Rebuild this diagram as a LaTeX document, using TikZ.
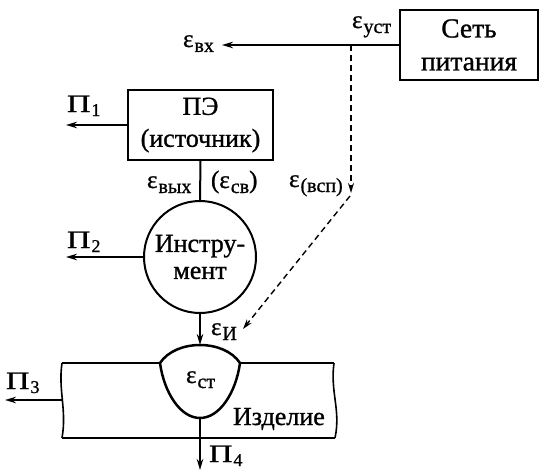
\documentclass[tikz,border=0pt]{standalone}
\usepackage{fontspec}
\usepackage{graphicx}
\setmainfont{Liberation Serif}[FakeBold=1]
\usetikzlibrary{arrows.meta}

% epsilon with a lowered subscript
\newcommand\epslab[1]{ε\kern1pt\raisebox{-5pt}{\fontsize{20}{20}\selectfont #1}}
% wide Pi with a lowered index
\newcommand\pilab[1]{\scalebox{1.3}[1]{Π}\kern1pt\raisebox{-4pt}{\fontsize{18}{18}\selectfont #1}}

\begin{document}
\begin{tikzpicture}[x=1pt,y=-1pt,line width=2pt,
  blockbox/.style={draw,line width=2pt,align=center,inner sep=0pt,
    font=\fontsize{26}{32}\selectfont},
  arr/.style={-{Stealth[length=11pt,width=6.5pt]},line width=1.8pt},
  dasharr/.style={-{Stealth[length=10pt,width=6pt]},line width=1.4pt,
    dash pattern=on 6pt off 4pt},
  lbl/.style={inner sep=0pt,anchor=base west,font=\fontsize{25}{25}\selectfont},
  bigtxt/.style={inner sep=0pt,anchor=base west,font=\fontsize{26}{26}\selectfont}]
\useasboundingbox (0,0) rectangle (539,471);

% blocks
\node[blockbox,minimum width=138pt,minimum height=70pt,
  font=\fontsize{27.5}{33}\selectfont] (net) at (469,45) {Сеть\\питания};
\node[blockbox,minimum width=145pt,minimum height=70pt] (pe) at (200.5,125) {ПЭ\\(источник)};
\node[circle,draw,line width=2pt,minimum size=112pt,inner sep=0pt,align=center,
  font=\fontsize{26}{27}\selectfont] (tool) at (200,257) {Инстру-\\мент};

% workpiece and weld bead points
\coordinate (wtl) at (62,363);
\coordinate (wbl) at (62,438);
\coordinate (wtr) at (334,363);
\coordinate (wbr) at (335,438);
\coordinate (bl) at (160,363);
\coordinate (br) at (240,363);
\coordinate (bt) at (200,345);
\coordinate (bb) at (200,418);

% free ends of the arrows
\coordinate (ein) at (222,45);
\coordinate (tap) at (351,45);
\coordinate (knee) at (351,193);
\coordinate (knee2) at (350,196);
\coordinate (auxtip) at (243,329);
\coordinate (p1) at (66,125);
\coordinate (p2) at (66,257);
\coordinate (p3w) at (62,400);
\coordinate (p3) at (5,400);
\coordinate (p4) at (200,470);

% workpiece outline
\draw (wtl) -- (bl);
\draw (br) -- (wtr);
\draw (wbl) -- (wbr);
\draw[line width=1.6pt] (wtl) .. controls (58,390) and (67,410) .. (wbl);
\draw[line width=1.6pt] (wtr) .. controls (330,392) and (341,410) .. (wbr);
% weld bead
\draw[line width=2.5pt] (bl) .. controls (176,339) and (224,339) .. (br)
  .. controls (236,392) and (220,418) .. (bb)
  .. controls (180,418) and (164,392) .. (bl) -- cycle;

% connectors
\draw[arr] (net.west |- ein) -- (ein);
\draw[dasharr] (tap) -- (knee);
\draw[dasharr] (knee2) -- (auxtip);
\draw (pe.south) -- (tool.north);
\draw[arr] (pe.west) -- (p1);
\draw[arr] (tool.west) -- (p2);
\draw[arr] (tool.south) -- (bt);
\draw[arr] (p3w) -- (p3);
\draw[arr] (bb) -- (p4);

% labels
\node[lbl] (eset) at (351,28) {\epslab{уст}};
\node[lbl] (ein-l) at (182,47) {\epslab{вх}};
\node[lbl] (eout) at (146,188) {\epslab{вых}};
\node[lbl] (esv) at (210,188) {(\epslab{св})};
\node[lbl] (eaux) at (288,187) {\epslab{(всп)}};
\node[lbl] (ei) at (210,335) {\epslab{И}};
\node[lbl] (est) at (185,383) {\epslab{ст}};
\node[bigtxt] (item) at (232,425) {Изделие};
\node[lbl] (l1) at (66,112) {\pilab{1}};
\node[lbl] (l2) at (66,248) {\pilab{2}};
\node[lbl] (l3) at (5,389) {\pilab{3}};
\node[lbl] (l4) at (208,462) {\pilab{4}};
\end{tikzpicture}
\end{document}
